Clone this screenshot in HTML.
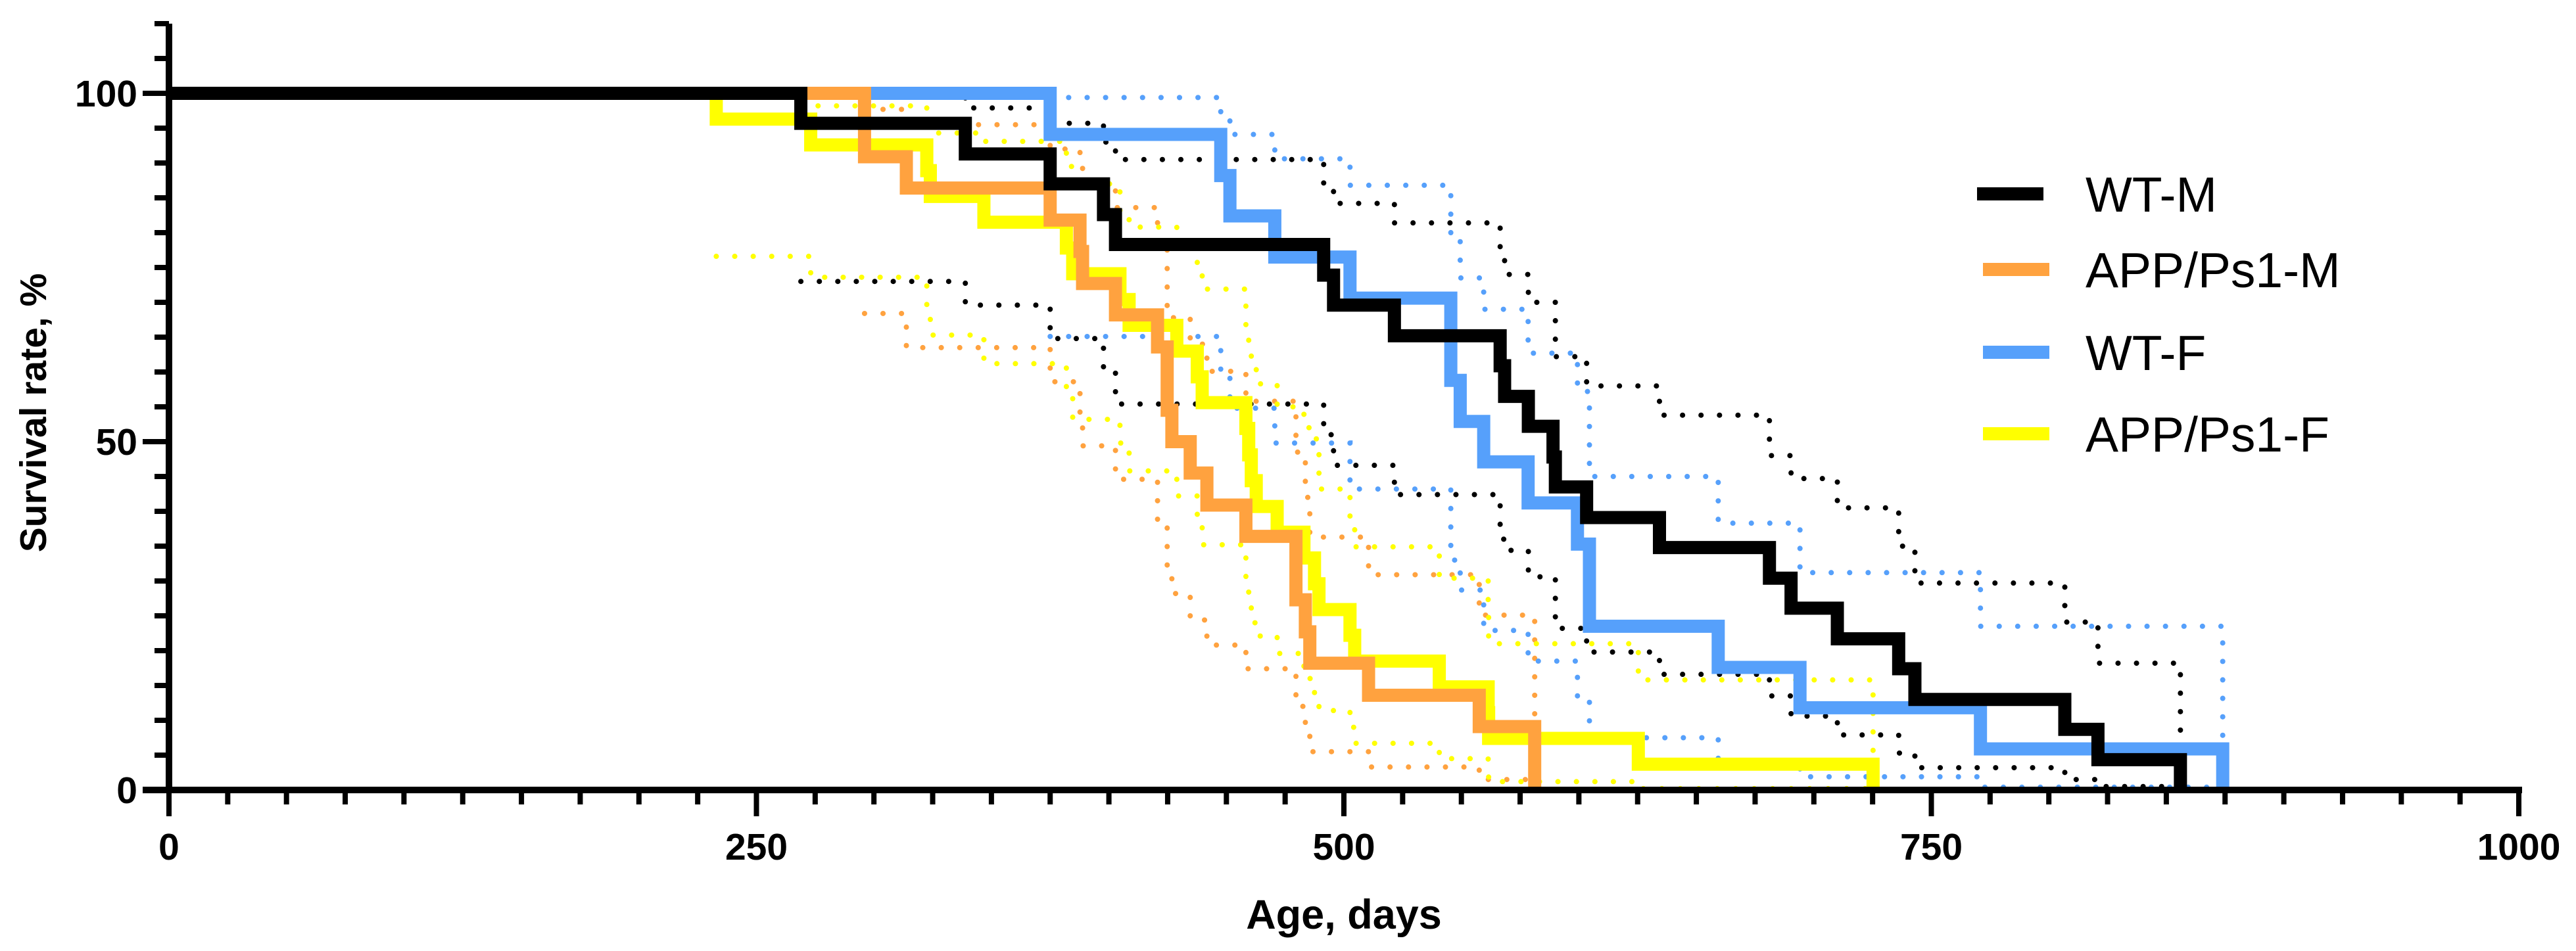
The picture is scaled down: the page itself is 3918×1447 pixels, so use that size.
<!DOCTYPE html>
<html><head><meta charset="utf-8"><style>
html,body{margin:0;padding:0;background:#fff;}
svg{display:block;font-family:"Liberation Sans",Arial,sans-serif;}
</style></head><body>
<svg id="chart" width="3918" height="1447" viewBox="0 0 3918 1447" xmlns="http://www.w3.org/2000/svg">
<g id="ci"></g>
<g id="curves"></g>
<g id="axes"></g>
<g id="legend"></g>
</svg>
<script>
// ---- data ----
const xTickLabels = [0, 250, 500, 750, 1000];
const yTickLabels = [0, 50, 100];
const seriesNames = ["WT-M", "APP/Ps1-M", "WT-F", "APP/Ps1-F"];

const wtmDays = [268.9,338.9,375,397.7,402.8,491.4,495.6,521.5,566.5,568.4,578.5,589,590,603.3,634.3,681.1,690.3,710,736.1,743,806.8,820.9,856];
const wtmPct  = [95.7,91.3,87,82.6,78.3,73.9,69.6,65.2,60.9,56.5,52.2,47.8,43.5,39.1,34.8,30.4,26.1,21.7,17.4,13,8.7,4.35,0];
const wtfDays = [375,447.6,451.5,470.6,502.6,545.5,549.5,559.5,578.4,599.4,604.5,659.3,694.1,770.9,874];
const wtfPct  = [94.1,88.2,82.4,76.5,70.6,58.8,52.9,47.1,41.2,35.3,23.5,17.6,11.8,5.9,0];
const appmDays = [296,313.8,375,387.7,388.8,402.8,420.7,424.8,426.8,434.6,441.7,458.3,479.6,483.6,485.5,510.5,557.6,581.2];
const appmPct  = [90.9,86.4,81.8,77.3,72.7,68.2,63.6,54.5,50,45.5,40.9,36.4,27.3,22.7,18.2,13.6,9.1,0];
const appfDays = [232.9,273.1,322.5,324,346.8,381.9,384.6,404.7,408.6,428.9,437.6,439.7,458.3,459.5,460.6,462.7,471.6,483,487.5,489.4,502.6,504.6,540.6,561.4,561.6,625.3,725.2];
const appfPct  = [96.3,92.6,88.9,85.2,81.5,77.8,74.1,70.4,66.7,63,59.3,55.6,51.9,48.1,44.4,40.7,37,33.3,29.6,25.9,22.2,18.5,14.8,11.1,7.4,3.7,0];

// confidence bands (start point + steps)
const wtmCiStart = [268.9, 99.6, 73.0];
const wtmCiDays = [338.9,375,397.7,402.8,491.4,495.6,521.5,566.5,568.4,578.5,590,603.3,634.3,681.1,690.3,710,736.1,743,806.8,820.9,856];
const wtmUpper  = [97.9,95.7,93,90.5,87,84.2,81.4,77,74,70,62.2,58,53.8,48,44.7,40.5,35,29.7,24.1,18.2,0];
const wtmLower  = [69.6,64.8,60,55.4,51,46.6,42.4,36,34.4,30.6,23.2,19.8,16.6,13.5,10.6,7.9,5.3,3.2,1.5,0.5,0];
const wtfCiStart = [375, 99.4, 65.1];
const wtfCiDays = [447.6,451.5,470.6,502.6,545.5,549.5,559.5,578.4,599.4,604.5,659.3,694.1,770.9,874];
const wtfUpper  = [96.5,94.1,90.6,86.8,79,73.5,69,62.7,57.2,45,38.3,31.2,23.5,0];
const wtfLower  = [60,54.8,49.8,43.2,33,28.7,22.9,18.5,13,7.5,4.2,1.9,0.4,0];
const appmCiStart = [296, 97.7, 68.4];
const appmCiDays = [313.8,375,387.7,388.8,402.8,420.7,424.8,426.8,434.6,441.7,458.3,479.6,483.6,485.5,510.5,557.6,581.2];
const appmUpper  = [95.5,92,89.4,87,83.6,78,68.5,67.8,64,60.1,55.8,48.5,42,36.3,30.9,25.1,0];
const appmLower  = [63.5,58.6,53,49.4,44.6,38,31,28.2,24.4,20.8,17.4,12,7.9,5.5,3.3,1.5,0];
const appfCiStart = [232.9, 99.5, 76.6];
const appfCiDays = [273.1,322.5,324,346.8,381.9,384.6,404.7,408.6,428.9,437.6,439.7,458.3,459.5,460.6,462.7,471.6,483,487.5,489.4,502.6,504.6,540.6,561.4,561.6,625.3,725.2];
const appfUpper  = [98.2,96,94.3,93.1,89.5,87,83,80.8,78,75,71.9,66,62.5,61,58.3,55,52,50.4,43.2,38,34.9,30.4,25,21,15.8,0];
const appfLower  = [73.6,69,65.3,61.2,57,53.2,49.8,45.8,42.2,38.5,35.2,30,26.3,24,22.1,19.6,16,13.5,11.4,9.0,6.7,4.5,2.5,1.2,0.2,0];

// ---- scales ----
const X0 = 257, X1 = 3831, Y0 = 1202, Y100 = 142;
const xs = d => X0 + (X1 - X0) * d / 1000;
const ys = p => Y0 - (Y0 - Y100) * p / 100;
const NS = "http://www.w3.org/2000/svg";
function mk(tag, attrs, parent) {
  const el = document.createElementNS(NS, tag);
  for (const k in attrs) el.setAttribute(k, attrs[k]);
  parent.appendChild(el);
  return el;
}
function stepPath(d0, p0, days, pcts) {
  let s = "M" + xs(d0) + "," + ys(p0);
  for (let i = 0; i < days.length; i++) {
    s += " H" + xs(days[i]) + " V" + ys(pcts[i]);
  }
  return s;
}
const colors = ["#000000", "#FFA23F", "#56A0FB", "#FFFF00"];

// ---- CI dotted lines ----
const ci = document.getElementById("ci");
const ciSets = [
  [wtmCiStart, wtmCiDays, wtmUpper, wtmLower, colors[0], "wt-m"],
  [appmCiStart, appmCiDays, appmUpper, appmLower, colors[1], "app-m"],
  [wtfCiStart, wtfCiDays, wtfUpper, wtfLower, colors[2], "wt-f"],
  [appfCiStart, appfCiDays, appfUpper, appfLower, colors[3], "app-f"]
];
ciSets.forEach(s => {
  const up = mk("path", {d: stepPath(s[0][0], s[0][1], s[1], s[2]), fill: "none", stroke: s[4], "stroke-width": 8, "stroke-linecap": "round", "stroke-dasharray": "0.1 28"}, ci);
  
  
  const lo = mk("path", {d: stepPath(s[0][0], s[0][2], s[1], s[3]), fill: "none", stroke: s[4], "stroke-width": 8, "stroke-linecap": "round", "stroke-dasharray": "0.1 28"}, ci);
  
  
});

// ---- main curves ----
const curves = document.getElementById("curves");
const mainSets = [
  [appfDays, appfPct, colors[3], "app-f-curve", 20],
  [wtfDays, wtfPct, colors[2], "wt-f-curve", 20],
  [appmDays, appmPct, colors[1], "app-m-curve", 20],
  [wtmDays, wtmPct, colors[0], "wt-m-curve", 20]
];
mainSets.forEach(s => {
  const p = mk("path", {d: stepPath(0, 100, s[0], s[1]), fill: "none", stroke: s[2], "stroke-width": s[4], "stroke-linejoin": "miter", "stroke-linecap": "butt"}, curves);
  
  
});

// ---- axes ----
const ax = document.getElementById("axes");
const yl = mk("line", {x1: X0, y1: ys(110), x2: X0, y2: Y0 + 5, stroke: "#000", "stroke-width": 10}, ax);


const xl = mk("line", {x1: X0 - 40, y1: Y0, x2: X1 + 5, y2: Y0, stroke: "#000", "stroke-width": 10}, ax);


for (let p = 0; p <= 110; p += 5) {
  const major = (p % 50 === 0);
  const t = mk("line", {x1: X0 - (major ? 40 : 22), y1: ys(p), x2: X0, y2: ys(p), stroke: "#000", "stroke-width": 8}, ax);
  
  
}
for (let d = 0; d <= 1000; d += 25) {
  const major = (d % 250 === 0);
  const t = mk("line", {x1: xs(d), y1: Y0, x2: xs(d), y2: Y0 + (major ? 40 : 22), stroke: "#000", "stroke-width": 8}, ax);
  
  
}
yTickLabels.forEach(v => {
  const t = mk("text", {x: X0 - 48, y: ys(v) + 20, "text-anchor": "end", "font-size": 57, "font-weight": "bold", fill: "#000"}, ax);
  t.textContent = v;
  
  
});
xTickLabels.forEach(v => {
  const t = mk("text", {x: xs(v), y: 1308, "text-anchor": "middle", "font-size": 57, "font-weight": "bold", fill: "#000"}, ax);
  t.textContent = v;
  
  
});
const xt = mk("text", {x: (X0 + X1) / 2, y: 1413, "text-anchor": "middle", "font-size": 63, "font-weight": "bold", fill: "#000"}, ax);
xt.textContent = "Age, days";


const yt = mk("text", {x: 0, y: 0, "text-anchor": "middle", "font-size": 57, "font-weight": "bold", fill: "#000", transform: "translate(70,628) rotate(-90)"}, ax);
yt.textContent = "Survival rate, %";



// ---- legend ----
const lg = document.getElementById("legend");
const legendY = [295, 410, 536, 660];
seriesNames.forEach((n, i) => {
  const x1 = i === 0 ? 3007 : 3016;
  const l = mk("line", {x1: x1, y1: legendY[i], x2: x1 + 101, y2: legendY[i], stroke: colors[i], "stroke-width": 20}, lg);
  
  
  const t = mk("text", {x: 3172, y: legendY[i] + 27, "font-size": 75, fill: "#000"}, lg);
  t.textContent = n;
  
  
});
</script>
</body></html>
